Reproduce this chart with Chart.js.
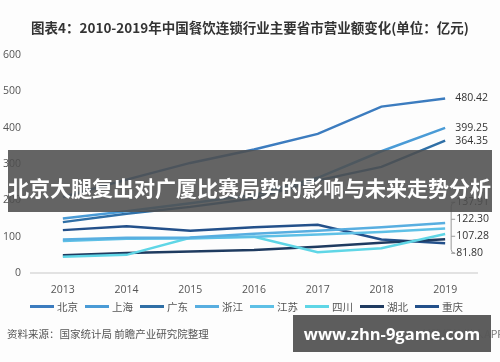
<!DOCTYPE html>
<html>
<head>
<meta charset="utf-8">
<script src="https://cdn.jsdelivr.net/npm/chart.js@4.4.0/dist/chart.umd.min.js"></script>
<style>
  body { margin: 0; background: #fdfdfd; font-family: "Open Sans", "Noto Sans CJK SC", sans-serif; }
  #wrap { position: relative; width: 500px; height: 362px; overflow: hidden; }
  #title { position: absolute; top: 17px; left: 0; width: 500px; text-align: center;
           font: bold 13.5px "Noto Sans CJK SC", sans-serif; color: #333; }
  canvas { position: absolute; left: 0; top: 0; }
  #legend { position: absolute; left: 30px; top: 299px; display: flex; }
  .item { display: flex; align-items: center; margin-right: 7px; font: 10.5px "Noto Sans CJK SC", sans-serif; color: #555; }
  .item span.ln { display: inline-block; width: 24px; height: 3px; margin-right: 3px; }
  #source { position: absolute; left: 7px; top: 326px; font: 10.5px "Noto Sans CJK SC", sans-serif; color: #555; }
  #app { position: absolute; right: -4px; top: 326px; font: 10.5px "Noto Sans CJK SC", sans-serif; color: #777; white-space: nowrap; }
  #banner { position: absolute; left: 8px; top: 150px; width: 484px; height: 62px; background: rgba(78,78,78,0.88);
            color: #fff; font: bold 21px "Noto Sans CJK SC", sans-serif; line-height: 62px; padding-top: 6px; box-sizing: border-box;
            white-space: nowrap; overflow: hidden; }
  #site { position: absolute; left: 293px; top: 315px; width: 198px; height: 37px; background: rgba(88,88,88,0.97);
          color: #fff; font: bold 16.5px "Open Sans", sans-serif; line-height: 37px; text-align: center; white-space: nowrap; }
</style>
</head>
<body>
<div id="wrap">
  <canvas id="chart" width="500" height="362"></canvas>
  <div id="title">图表4：2010-2019年中国餐饮连锁行业主要省市营业额变化(单位：亿元)</div>
  <div id="legend"></div>
  <div id="source">资料来源：国家统计局 前瞻产业研究院整理</div>
  <div id="app">前瞻经济学人APP</div>
  <div id="banner">北京大腿复出对广厦比赛局势的影响与未来走势分析</div>
  <div id="site">www.zhn-9game.com</div>
</div>
<script>
// 数据
const years = ['2013', '2014', '2015', '2016', '2017', '2018', '2019'];
const yTicks = [0, 100, 200, 300, 400, 500, 600];

const beijing   = [209, 257, 303, 340, 383, 458, 480.42];
const shanghai  = [150, 170, 192, 215, 262, 335, 399.25];
const guangdong = [140, 163, 182, 205, 255, 292, 364.35];
const zhejiang  = [92, 97, 98, 108, 116, 126, 137.91];
const jiangsu   = [88, 94, 95, 100, 106, 113, 122.30];
const sichuan   = [45, 50, 97, 100, 57, 68, 107.28];
const hubei     = [49, 55, 59, 63, 72, 83, 93];
const chongqing = [118, 129, 116, 126, 133, 92, 81.80];

const seriesNames = ['北京', '上海', '广东', '浙江', '江苏', '四川', '湖北', '重庆'];
const seriesData = [beijing, shanghai, guangdong, zhejiang, jiangsu, sichuan, hubei, chongqing];
const seriesColors = ['#3c7cbf', '#4a9bd6', '#2f6fa6', '#58aee0', '#5ec0e6', '#5fd6e6', '#1f3b60', '#23508a'];

// 右侧数值标签 (null = 无标签)
const endLabels = ['480.42', '399.25', '364.35', '137.91', '122.30', '107.28', null, '81.80'];
const bracketed = [3, 4, 5, 7];

// 图例
const legendEl = document.getElementById('legend');
seriesNames.forEach((name, i) => {
    const item = document.createElement('div');
    item.className = 'item';
    item.innerHTML = `<span class="ln" style="background:${seriesColors[i]}"></span>${name}`;
    legendEl.appendChild(item);
});

const endLabelPlugin = {
    id: 'endLabels',
    afterDatasetsDraw(chart) {
        const ctx = chart.ctx;
        const yScale = chart.scales.y;
        ctx.save();
        ctx.font = '10.5px "Open Sans", sans-serif';
        ctx.fillStyle = '#333';
        ctx.textBaseline = 'middle';
        ctx.textAlign = 'left';

        let lastX = 0;
        endLabels.forEach((txt, i) => {
            const meta = chart.getDatasetMeta(i);
            const pt = meta.data[meta.data.length - 1];
            lastX = pt.x;
            if (txt && !bracketed.includes(i)) {
                ctx.fillText(txt, pt.x + 10, pt.y);
            }
        });

        // 括号内的标签
        const bottomY = yScale.getPixelForValue(81.80) + 10;
        const ys = [];
        bracketed.slice().reverse().forEach((idx, k) => {
            const y = bottomY - k * 17;
            ys.push(y);
            ctx.fillText(endLabels[idx], lastX + 11, y);
        });
        const bx = lastX + 6;
        ctx.strokeStyle = '#999';
        ctx.lineWidth = 1;
        ctx.beginPath();
        ctx.moveTo(bx + 4, Math.min(...ys));
        ctx.quadraticCurveTo(bx, Math.min(...ys), bx, Math.min(...ys) + 4);
        ctx.lineTo(bx, Math.max(...ys) - 4);
        ctx.quadraticCurveTo(bx, Math.max(...ys), bx + 4, Math.max(...ys));
        ys.forEach(y => {
            ctx.moveTo(bx, y);
            ctx.lineTo(bx + 4, y);
        });
        ctx.stroke();
        ctx.restore();
    }
};

new Chart(document.getElementById('chart'), {
    type: 'line',
    data: {
        labels: years,
        datasets: seriesData.map((d, i) => ({
            label: seriesNames[i],
            data: d,
            borderColor: seriesColors[i],
            backgroundColor: seriesColors[i],
            borderWidth: 2.5,
            pointRadius: 0,
            tension: 0,
            fill: false
        }))
    },
    options: {
        responsive: false,
        animation: false,
        layout: { padding: { left: 0, right: 23, top: 55, bottom: 59 } },
        plugins: {
            legend: { display: false },
            tooltip: { enabled: false }
        },
        scales: {
            x: {
                offset: true,
                grid: { display: false, drawTicks: false },
                border: { display: true, color: '#e2e2e2', width: 2 },
                ticks: { color: '#555', padding: 11, font: { size: 10.5, family: '"Open Sans", sans-serif' } },
                afterFit(scale) { scale.height = 30; }
            },
            y: {
                min: 0,
                max: 600,
                afterBuildTicks(scale) { scale.ticks = yTicks.map(v => ({ value: v })); },
                grid: { display: false, drawTicks: false },
                border: { display: false },
                ticks: { color: '#555', padding: 10, font: { size: 10.5, family: '"Open Sans", sans-serif' } },
                afterFit(scale) { scale.width = 31; }
            }
        }
    },
    plugins: [endLabelPlugin]
});
</script>
</body>
</html>
